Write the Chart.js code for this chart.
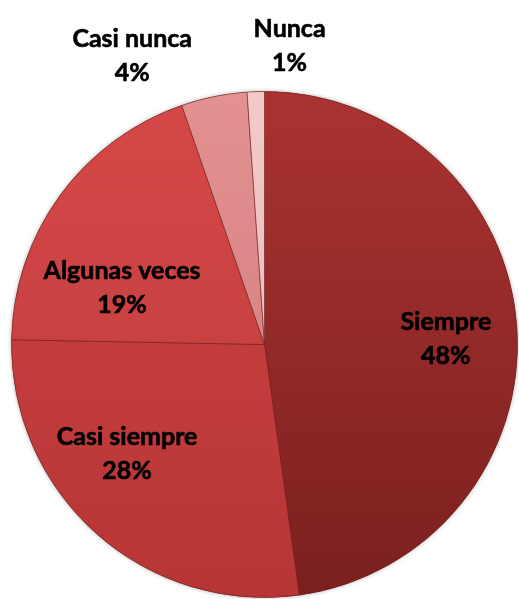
<!DOCTYPE html>
<html>
<head>
<meta charset="utf-8">
<script src="https://cdn.jsdelivr.net/npm/chart.js@4.4.1/dist/chart.umd.min.js"></script>
<style>
  html, body { margin: 0; padding: 0; background: #ffffff; }
  #wrap { width: 519px; height: 599px; position: relative; }
</style>
</head>
<body>
<div id="wrap"><canvas id="c" width="519" height="599"></canvas></div>
<script>
// ---- data ----
const categories = ["Siempre", "Casi siempre", "Algunas veces", "Casi nunca", "Nunca"];
const values = [47.8, 27.5, 19.4, 4.2, 1.1];
const percentLabels = ["48%", "28%", "19%", "4%", "1%"];

// ---- styles ----
const topColors = ["#aa3331", "#d24545", "#d64848", "#e39191", "#f3c9c9"];
const bottomColors = ["#7a201f", "#b63535", "#bb3a3a", "#d27878", "#e8b3b3"];
// label placement: angle (deg clockwise from top) and distance as fraction of radius
const labelAngles = [88.4, 231.4, 291.7, 335.4, 4.8];
const labelRadii = [0.717, 0.695, 0.606, 1.256, 1.185];

function sliceGradient(ctx) {
  const chart = ctx.chart;
  const area = chart.chartArea;
  const i = ctx.dataIndex;
  if (!area) return topColors[i];
  const g = chart.ctx.createLinearGradient(0, area.top, 0, area.bottom);
  g.addColorStop(0, topColors[i]);
  g.addColorStop(1, bottomColors[i]);
  return g;
}

const labelPlugin = {
  id: 'sliceLabels',
  afterDatasetsDraw(chart) {
    const ctx = chart.ctx;
    const meta = chart.getDatasetMeta(0);
    ctx.save();
    ctx.fillStyle = '#000000';
    ctx.strokeStyle = '#000000';
    ctx.lineWidth = 0.6;
    ctx.lineJoin = 'round';
    ctx.font = 'bold 25px Lato';
    ctx.textAlign = 'center';
    ctx.textBaseline = 'middle';
    meta.data.forEach((arc, i) => {
      const p = arc.getProps(['x', 'y', 'outerRadius'], true);
      const a = labelAngles[i] * Math.PI / 180;
      const d = labelRadii[i] * p.outerRadius;
      const cx = p.x + Math.sin(a) * d;
      const cy = p.y - Math.cos(a) * d;
      ctx.fillText(categories[i], cx, cy - 17);
      ctx.strokeText(categories[i], cx, cy - 17);
      ctx.fillText(percentLabels[i], cx, cy + 17);
      ctx.strokeText(percentLabels[i], cx, cy + 17);
    });
    ctx.restore();
  }
};

const shadowPlugin = {
  id: 'pieShadow',
  beforeDatasetsDraw(chart) {
    const meta = chart.getDatasetMeta(0);
    if (!meta.data.length) return;
    const p = meta.data[0].getProps(['x', 'y', 'outerRadius'], true);
    const ctx = chart.ctx;
    ctx.save();
    ctx.beginPath();
    ctx.arc(p.x, p.y, p.outerRadius, 0, Math.PI * 2);
    ctx.shadowColor = 'rgba(0,0,0,0.35)';
    ctx.shadowBlur = 4;
    ctx.fillStyle = '#8a2a28';
    ctx.fill();
    ctx.restore();
  }
};

new Chart(document.getElementById('c'), {
  type: 'pie',
  data: {
    labels: categories,
    datasets: [{
      data: values,
      backgroundColor: sliceGradient,
      borderColor: 'rgba(110,30,30,0.55)',
      borderWidth: 1
    }]
  },
  options: {
    responsive: false,
    animation: false,
    layout: { padding: { left: 11, right: 1, top: 91, bottom: 1 } },
    plugins: {
      legend: { display: false },
      tooltip: { enabled: false }
    }
  },
  plugins: [shadowPlugin, labelPlugin]
});
</script>
</body>
</html>
